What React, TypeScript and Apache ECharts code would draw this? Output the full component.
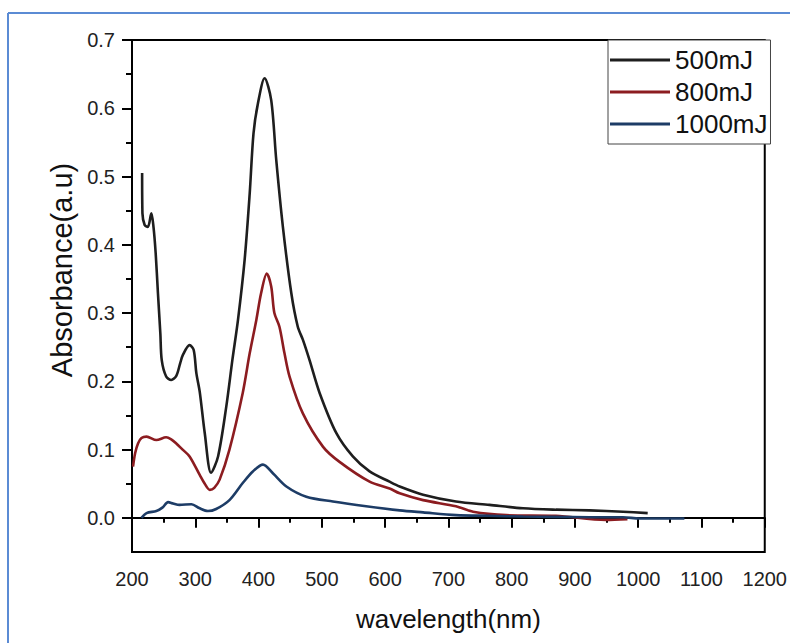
import React, { useEffect, useRef } from "react";
import * as echarts from "echarts";

const FONT = "'Liberation Sans', Arial, sans-serif";

const seriesNames = ["500mJ", "800mJ", "1000mJ"];
const seriesColors = ["#1e1e1e", "#8c1c20", "#1d3c66"];

const wl500 = [216, 216.5, 220, 225, 230.6, 234, 237.4, 241, 244.8, 247, 254, 262, 270, 276, 280.6, 291, 297.5, 301.7, 307, 315, 325, 336, 349, 358.6, 367.5, 378, 386, 392, 399, 409.6, 420, 428, 438.5, 451.8, 462, 470, 480.6, 496.5, 523, 549, 575.5, 607, 623, 660, 712, 765, 818, 870, 923, 976, 1015];
const abs500 = [0.505, 0.446, 0.429, 0.426, 0.446, 0.426, 0.388, 0.329, 0.27, 0.231, 0.207, 0.202, 0.208, 0.226, 0.239, 0.253, 0.246, 0.212, 0.185, 0.124, 0.066, 0.09, 0.163, 0.231, 0.29, 0.378, 0.475, 0.563, 0.607, 0.644, 0.612, 0.524, 0.426, 0.329, 0.28, 0.261, 0.231, 0.183, 0.124, 0.09, 0.068, 0.053, 0.046, 0.034, 0.024, 0.019, 0.014, 0.012, 0.011, 0.009, 0.007];

const wl800 = [201.6, 205, 209.5, 215, 223, 238.5, 254, 262, 270, 280, 291, 307, 315, 323, 330, 338.5, 354, 375, 386, 396.5, 404, 413, 420, 425, 433, 441, 449, 470, 502, 528, 575.5, 607, 623, 660, 712, 739, 791.5, 870, 949, 983];
const abs800 = [0.075, 0.095, 0.109, 0.117, 0.119, 0.114, 0.118, 0.115, 0.109, 0.1, 0.09, 0.063, 0.05, 0.041, 0.044, 0.056, 0.1, 0.183, 0.241, 0.29, 0.329, 0.358, 0.339, 0.3, 0.28, 0.241, 0.207, 0.153, 0.104, 0.082, 0.053, 0.043, 0.036, 0.026, 0.017, 0.009, 0.004, 0.003, -0.003, -0.002];

const wl1000 = [215, 223, 238.5, 248, 257, 265, 275, 294, 307, 320, 333, 354, 375, 391, 407, 423, 444, 475.5, 517.5, 570, 623, 660, 712, 765, 818, 870, 923, 976, 1002, 1073];
const abs1000 = [0.0, 0.007, 0.01, 0.015, 0.023, 0.021, 0.019, 0.02, 0.014, 0.01, 0.013, 0.026, 0.051, 0.068, 0.078, 0.065, 0.046, 0.031, 0.024, 0.017, 0.011, 0.008, 0.004, 0.003, 0.002, 0.0015, 0.001, 0.001, -0.001, -0.001];

const yMajorTicks = [0, 0.1, 0.2, 0.3, 0.4, 0.5, 0.6, 0.7];
const yMinorTicks = [0.05, 0.15, 0.25, 0.35, 0.45, 0.55, 0.65];

const zip = (xs: number[], ys: number[]) => xs.map((x, i) => [x, ys[i]]);

export default function App() {
  const ref = useRef<HTMLDivElement>(null);
  useEffect(() => {
    if (!ref.current) return;
    const chart = echarts.init(ref.current, null, { renderer: "svg" });
    const datasets = [zip(wl500, abs500), zip(wl800, abs800), zip(wl1000, abs1000)];
    const baseY = {
      type: "value",
      min: -0.05,
      max: 0.7,
      position: "left",
      splitLine: { show: false },
    };
    chart.setOption({
      animation: false,
      backgroundColor: "#ffffff",
      textStyle: { fontFamily: FONT },
      grid: {
        left: 132,
        top: 40,
        right: 24,
        bottom: 91,
        show: true,
        borderColor: "#000",
        borderWidth: 2,
        backgroundColor: "transparent",
      },
      legend: {
        data: seriesNames,
        orient: "vertical",
        left: 608,
        top: 40,
        padding: [5, 3, 5, 2],
        itemGap: 2,
        itemWidth: 60,
        itemHeight: 3,
        icon: "rect",
        backgroundColor: "#fff",
        borderColor: "#444",
        borderWidth: 1,
        textStyle: { fontSize: 26, lineHeight: 30, color: "#111", fontFamily: FONT },
      },
      xAxis: {
        type: "value",
        min: 200,
        max: 1200,
        interval: 100,
        name: "wavelength(nm)",
        nameLocation: "middle",
        nameGap: 54,
        nameTextStyle: { fontSize: 26, color: "#111", fontFamily: FONT },
        axisLine: { lineStyle: { color: "#000", width: 2 } },
        axisTick: { show: true, inside: false, length: 10, lineStyle: { color: "#000", width: 2 } },
        minorTick: { show: true, splitNumber: 2, length: 5, lineStyle: { color: "#000", width: 2 } },
        axisLabel: { fontSize: 20, color: "#222", margin: 17, fontFamily: FONT, formatter: (v: number) => String(v) },
        splitLine: { show: false },
      },
      yAxis: [
        {
          ...baseY,
          name: "Absorbance(a.u)",
          nameLocation: "middle",
          nameRotate: 90,
          nameGap: 47,
          nameTextStyle: { fontSize: 29, color: "#111", fontFamily: FONT, padding: [0, 0, 0, 52] },
          axisLine: { lineStyle: { color: "#000", width: 2 } },
          axisTick: { show: true, inside: false, length: 10, customValues: yMajorTicks, lineStyle: { color: "#000", width: 2 } },
          axisLabel: {
            fontSize: 20,
            color: "#222",
            margin: 17,
            fontFamily: FONT,
            customValues: yMajorTicks,
            formatter: (v: number) => v.toFixed(1),
          },
        },
        {
          ...baseY,
          axisLine: { show: false },
          axisTick: { show: true, inside: false, length: 6, customValues: yMinorTicks, lineStyle: { color: "#000", width: 2 } },
          axisLabel: { show: false },
        },
      ],
      graphic: [
        { type: "line", shape: { x1: 8, y1: 13, x2: 790, y2: 13 }, style: { stroke: "#5b8bd4", lineWidth: 2 } },
        { type: "line", shape: { x1: 8, y1: 13, x2: 8, y2: 643 }, style: { stroke: "#5b8bd4", lineWidth: 2 } },
      ],
      series: seriesNames.map((name, i) => ({
        name,
        type: "line",
        yAxisIndex: 0,
        data: datasets[i],
        symbol: "none",
        smooth: 0.3,
        lineStyle: { color: seriesColors[i], width: 2.6 },
        itemStyle: { color: seriesColors[i] },
      })),
    });
    return () => chart.dispose();
  }, []);
  return (
    <div
      ref={ref}
      style={{ position: "fixed", left: 0, top: 0, width: 790, height: 643, background: "#fff" }}
    />
  );
}
